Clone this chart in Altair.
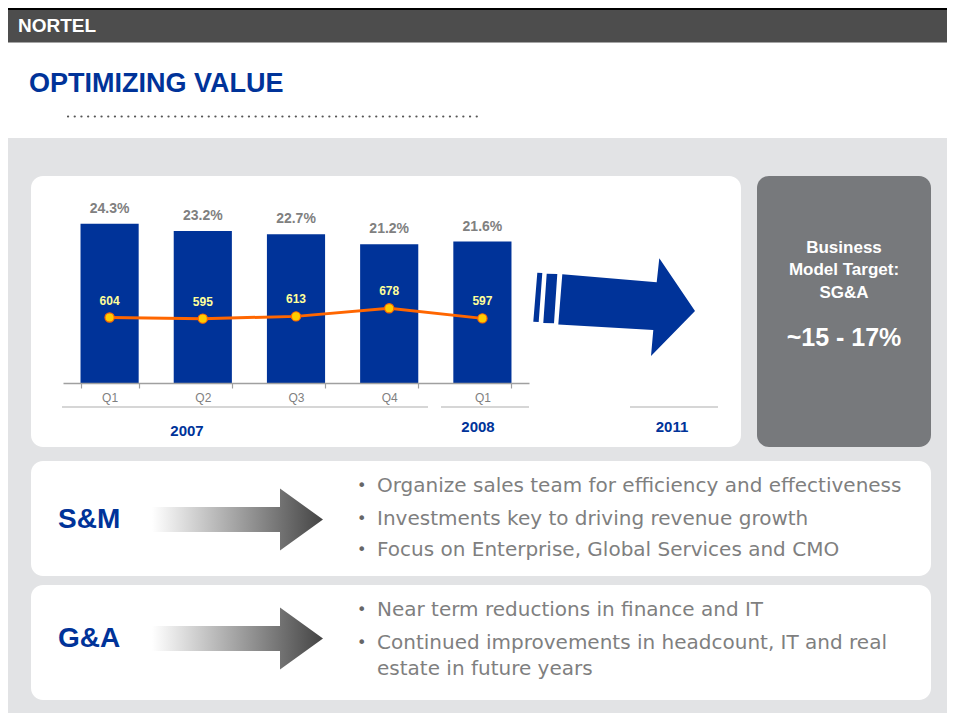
import altair as alt
import pandas as pd

# ---------------- data ----------------
quarters = ["Q1", "Q2", "Q3", "Q4", "Q1"]
years = ["2007", "2007", "2007", "2007", "2008"]
sga_pct = [24.3, 23.2, 22.7, 21.2, 21.6]        # SG&A as % of revenue (bars)
sga_musd = [604, 595, 613, 678, 597]             # SG&A in $M (line)
sm_bullets = [
    "Organize sales team for efficiency and effectiveness",
    "Investments key to driving revenue growth",
    "Focus on Enterprise, Global Services and CMO",
]
ga_bullets = [
    "Near term reductions in finance and IT",
    "Continued improvements in headcount,  IT and real",
    "estate in future years",
]
target_lines = ["Business", "Model Target:", "SG&A"]
target_value = "~15 - 17%"

cats = [f"{y} {q}" for y, q in zip(years, quarters)]
df = pd.DataFrame({
    "cat": cats,
    "pct": sga_pct,
    "pct_label": [f"{v:.1f}%" for v in sga_pct],
    "sga": sga_musd,
})

# ---------------- layout helpers ----------------
W, H = 939, 705
OX, OY = 8, 8
SANS = "Liberation Sans, Arial, sans-serif"
BODY = "DejaVu Sans, Verdana, sans-serif"
BLUE = "#003399"
one = alt.Data(values=[{"k": 0}])


def tx(x):
    return x - OX


def ty(y):
    return y - OY


def rect(x1, y1, x2, y2, color, r=0):
    return alt.Chart(one).mark_rect(color=color, cornerRadius=r, opacity=1).encode(
        x=alt.value(tx(x1)), x2=alt.value(tx(x2)), y=alt.value(ty(y1)), y2=alt.value(ty(y2))
    )


def rule(x1, y1, x2, y2, color, width, **kw):
    return alt.Chart(one).mark_rule(color=color, strokeWidth=width, **kw).encode(
        x=alt.value(tx(x1)), x2=alt.value(tx(x2)), y=alt.value(ty(y1)), y2=alt.value(ty(y2))
    )


def text(s, x, y, size, color, weight="normal", align="left", font=SANS, baseline="middle"):
    return alt.Chart(one).mark_text(
        text=s, fontSize=size, color=color, fontWeight=weight, align=align,
        baseline=baseline, font=font
    ).encode(x=alt.value(tx(x)), y=alt.value(ty(y)))


def shape(polys, fill):
    xs = [p[0] for poly in polys for p in poly]
    ys = [p[1] for poly in polys for p in poly]
    cx, cy = (min(xs) + max(xs)) / 2, (min(ys) + max(ys)) / 2
    half = max(max(xs) - min(xs), max(ys) - min(ys)) / 2
    path = ""
    for poly in polys:
        pts = [f"{(px - cx) / half:.4f},{(py - cy) / half:.4f}" for px, py in poly]
        path += "M" + " L".join(pts) + " Z "
    return alt.Chart(one).mark_point(
        shape=path.strip(), size=(2 * half) ** 2, filled=True, fill=fill,
        strokeWidth=0, opacity=1
    ).encode(x=alt.value(tx(cx)), y=alt.value(ty(cy)))


gray_grad = alt.LinearGradient(
    gradient="linear",
    stops=[alt.GradientStop(offset=0, color="#FFFFFF"),
           alt.GradientStop(offset=1, color="#444444")],
    x1=0, x2=1, y1=0, y2=0,
)


def gray_arrow(yc):
    return shape([[(152, yc - 12.5), (280, yc - 12.5), (280, yc - 31), (323, yc),
                   (280, yc + 31), (280, yc + 12.5), (152, yc + 12.5)]], gray_grad)


blue_arrow = shape([
    [(537.3, 272.7), (542.3, 273.0), (538.7, 322.0), (533.3, 321.7)],
    [(546.7, 273.7), (557.3, 274.0), (554.0, 323.3), (543.3, 323.0)],
    [(562.3, 274.3), (656.7, 282.3), (659.3, 258.3), (695.0, 311.0),
     (651.0, 356.0), (653.3, 330.0), (558.3, 324.5)],
], BLUE)

# ---------------- decoration ----------------
deco = [
    rect(8, 138, 955, 716, "#E2E3E5"),
    rect(8, 8, 955, 10, "#000000"),
    rect(8, 10, 955, 42.5, "#4D4D4D"),
    rect(8, 716, 955, 722, BLUE),
    text("NORTEL", 18, 26, 19, "#FFFFFF", "bold"),
    text("OPTIMIZING VALUE", 29, 84, 27, BLUE, "bold"),
    rule(68, 116.5, 480, 116.5, "#555555", 2.2, strokeDash=[0.1, 6.6], strokeCap="round"),
    rect(31, 176, 741, 447, "#FFFFFF", 12),
    rect(757, 176, 931, 447, "#77797C", 12),
    rect(31, 461, 931, 576, "#FFFFFF", 12),
    rect(31, 585, 931, 700, "#FFFFFF", 12),
    blue_arrow,
    rule(62, 407, 428, 407, "#D6D6D6", 2),
    rule(441, 407, 529, 407, "#D6D6D6", 2),
    rule(630, 407, 718, 407, "#D6D6D6", 2),
    text("2007", 187, 431, 15, BLUE, "bold", "center"),
    text("2008", 478, 427, 15, BLUE, "bold", "center"),
    text("2011", 672, 427, 15, BLUE, "bold", "center"),
]
for i, s in enumerate(target_lines):
    deco.append(text(s, 844, [248, 270, 293][i], 17, "#FFFFFF", "bold", "center"))
deco.append(text(target_value, 844, 338, 25, "#FFFFFF", "bold", "center"))

deco += [
    text("S&M", 58, 520, 28, BLUE, "bold"),
    text("G&A", 58, 639, 28, BLUE, "bold"),
    gray_arrow(519.5),
    gray_arrow(638.5),
]
for s, y in zip(sm_bullets, [486, 518.5, 550]):
    deco.append(text("•", 357, y, 16, "#666666", font=BODY))
    deco.append(text(s, 377, y, 20, "#7F7F7F", font=BODY))
for i, (s, y) in enumerate(zip(ga_bullets, [610, 643, 669])):
    if i < 2:
        deco.append(text("•", 357, y, 16, "#666666", font=BODY))
    deco.append(text(s, 377, y, 20, "#7F7F7F", font=BODY))

# ---------------- chart ----------------
x_enc = alt.X(
    "cat:N",
    scale=alt.Scale(domain=cats, range=[tx(63), tx(529)], paddingInner=0.376, paddingOuter=0.188),
    axis=alt.Axis(
        title=None, orient="bottom", offset=-(H - ty(383)), labelAngle=0, zindex=1,
        labelExpr="split(datum.label, ' ')[1]", tickBand="extent",
        domainColor="#A0A0A0", domainWidth=1.5, tickColor="#A0A0A0", tickSize=5, tickWidth=1.2,
        labelColor="#7F7F7F", labelFontSize=12, labelFont=SANS, labelPadding=4, grid=False,
    ),
)
y_pct = alt.Y("pct:Q", scale=alt.Scale(domain=[0, 25], range=[ty(383), ty(383) - 163.75], nice=False, zero=True), axis=None)
y_sga = alt.Y("sga:Q", scale=alt.Scale(domain=[0, 1000], range=[ty(393), ty(268)], nice=False), axis=None)

base = alt.Chart(df)
bars = base.mark_bar(color=BLUE).encode(x=x_enc, y=y_pct)
pct_text = base.mark_text(dy=-11, baseline="alphabetic", fontSize=14, fontWeight="bold",
                          color="#808080", font=SANS).encode(x=x_enc, y=y_pct, text="pct_label:N")
line = base.mark_line(color="#FF6600", strokeWidth=3).encode(x=x_enc, y=y_sga)
pts = base.mark_circle(size=85, color="#FFCC00", stroke="#FF6600", strokeWidth=1.2, opacity=1).encode(x=x_enc, y=y_sga)
sga_text = base.mark_text(dy=-13, baseline="alphabetic", fontSize=12, fontWeight="bold",
                          color="#FFFF99", font=SANS).encode(x=x_enc, y=y_sga, text="sga:Q")

chart = alt.layer(*deco, bars, pct_text, line, pts, sga_text).resolve_scale(
    y="independent"
).properties(
    width=W, height=H, padding=0, autosize=alt.AutoSizeParams(type="none"), background="#FFFFFF"
).configure_view(stroke=None)

chart.save("out.html", embed_options={"renderer": "svg", "actions": False})
